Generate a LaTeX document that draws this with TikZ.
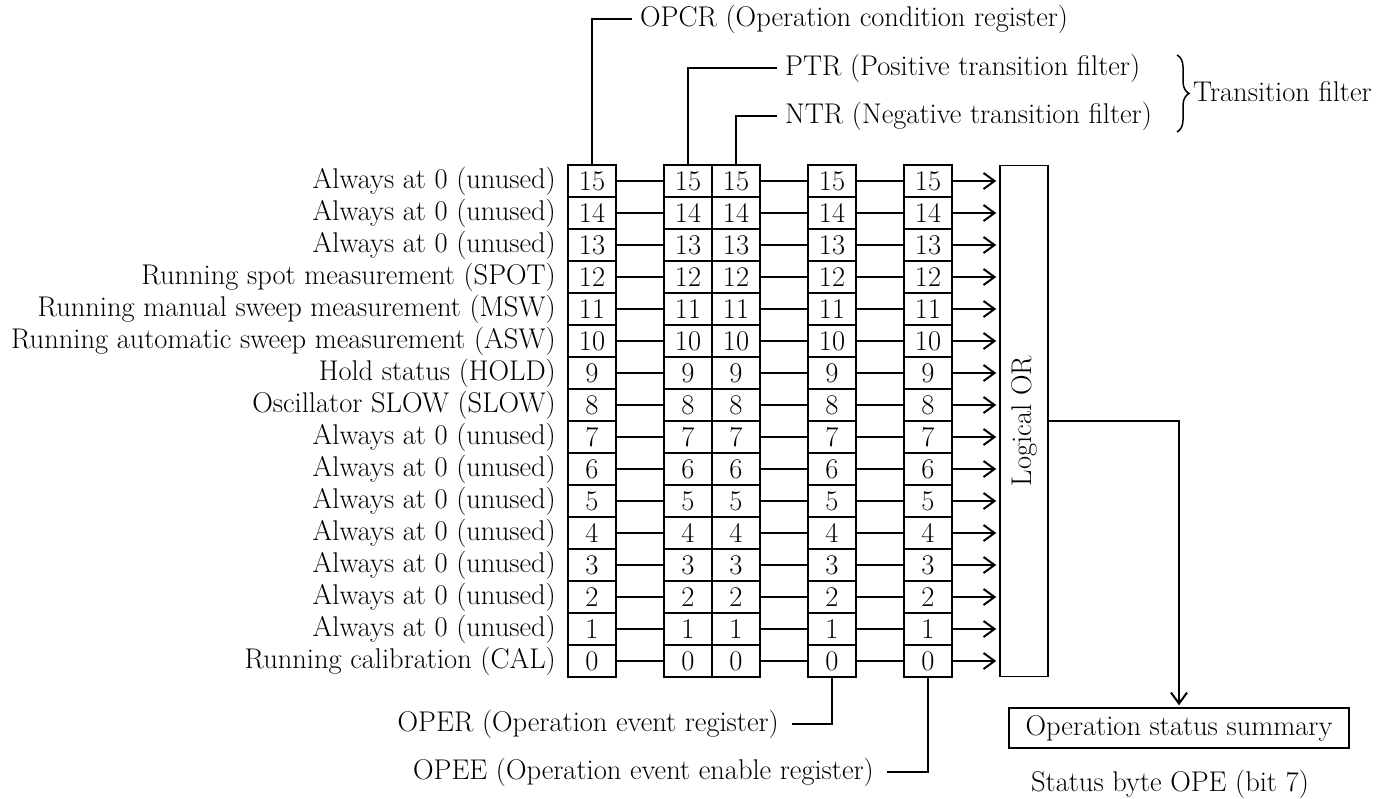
\documentclass[tikz,border=0pt]{standalone}
\usepackage{tikz}
\usetikzlibrary{arrows.meta, positioning, calc, decorations.pathreplacing}
\tikzset{
  bitbox/.style={rectangle,draw=black,line width=1.5pt,minimum width=48pt,minimum height=32pt,inner sep=0pt},
  orbox/.style={rectangle,draw=black,line width=1.5pt,minimum width=48pt,minimum height=511pt,inner sep=0pt},
  sumbox/.style={rectangle,draw=black,line width=1.5pt,minimum width=340pt,minimum height=40pt,inner sep=0pt},
  wire/.style={line width=1.5pt},
  arr/.style={-{Straight Barb[length=11pt,width=16pt,line width=2pt]},line width=2pt},
  lbl/.style={inner sep=4pt},
  reglbl/.style={inner ysep=4pt,inner xsep=8pt}
}

\begin{document}
\begin{tikzpicture}[x=1pt,y=-1pt,every node/.style={font=\fontsize{28.5}{32}\selectfont}]
  \useasboundingbox (0,0) rectangle (1397,798);

  % Register bits
  \foreach \i/\txt in {15/{Always at 0 (unused)},14/{Always at 0 (unused)},13/{Always at 0 (unused)},
      12/{Running spot measurement (SPOT)},11/{Running manual sweep measurement (MSW)},
      10/{Running automatic sweep measurement (ASW)},9/{Hold status (HOLD)},8/{Oscillator SLOW (SLOW)},
      7/{Always at 0 (unused)},6/{Always at 0 (unused)},5/{Always at 0 (unused)},4/{Always at 0 (unused)},
      3/{Always at 0 (unused)},2/{Always at 0 (unused)},1/{Always at 0 (unused)},0/{Running calibration (CAL)}} {
    \pgfmathsetmacro{\yy}{181+(15-\i)*32}
    \node[bitbox] (c\i) at (592,\yy) {\i};
    \node[bitbox] (p\i) at (688,\yy) {\i};
    \node[bitbox] (n\i) at (736,\yy) {\i};
    \node[bitbox] (e\i) at (832,\yy) {\i};
    \node[bitbox] (en\i) at (928,\yy) {\i};
    \node[lbl,anchor=east] (l\i) at (560,\yy) {\txt};
    \draw[wire] (c\i) -- (p\i);
    \draw[wire] (n\i) -- (e\i);
    \draw[wire] (e\i) -- (en\i);
  }

  % Logical OR
  \node[orbox] (or) at (1024,421) {};
  \node[rotate=90] (ortxt) at (or.center) {Logical OR};
  \foreach \i in {0,...,15}
    \draw[arr,shorten >=3pt] (en\i.east) -- (en\i.east -| or.west);

  % Summary
  \node[sumbox] (sum) at (1179,728) {Operation status summary};
  \node (stb) at (1170,784) {Status byte OPE (bit 7)};
  \draw[arr,shorten >=2pt] (or.east) -| (sum.north);

  % Register names
  \node[reglbl,anchor=west] (opcr) at (632,19) {OPCR (Operation condition register)};
  \node[reglbl,anchor=west] (ptr) at (777,68) {PTR (Positive transition filter)};
  \node[reglbl,anchor=west] (ntr) at (777,116) {NTR (Negative transition filter)};
  \draw[wire] (c15.north) |- (opcr.west);
  \draw[wire] (p15.north) |- (ptr.west);
  \draw[wire] (n15.north) |- (ntr.west);

  \node[reglbl,anchor=east,inner xsep=13pt] (oper) at (792,724) {OPER (Operation event register)};
  \node[reglbl,anchor=east,inner xsep=13pt] (opee) at (887,772) {OPEE (Operation event enable register)};
  \draw[wire] (e0.south) |- (oper.east);
  \draw[wire] (en0.south) |- (opee.east);

  % Transition filter brace
  \coordinate (bt) at (1177,55);
  \coordinate (bb) at (1177,132);
  \draw[line width=1.5pt,decorate,decoration={brace,amplitude=12pt}] (bt) -- (bb);
  \node[inner sep=0pt,anchor=west] (tf) at (1193,92) {Transition filter};
\end{tikzpicture}
\end{document}
